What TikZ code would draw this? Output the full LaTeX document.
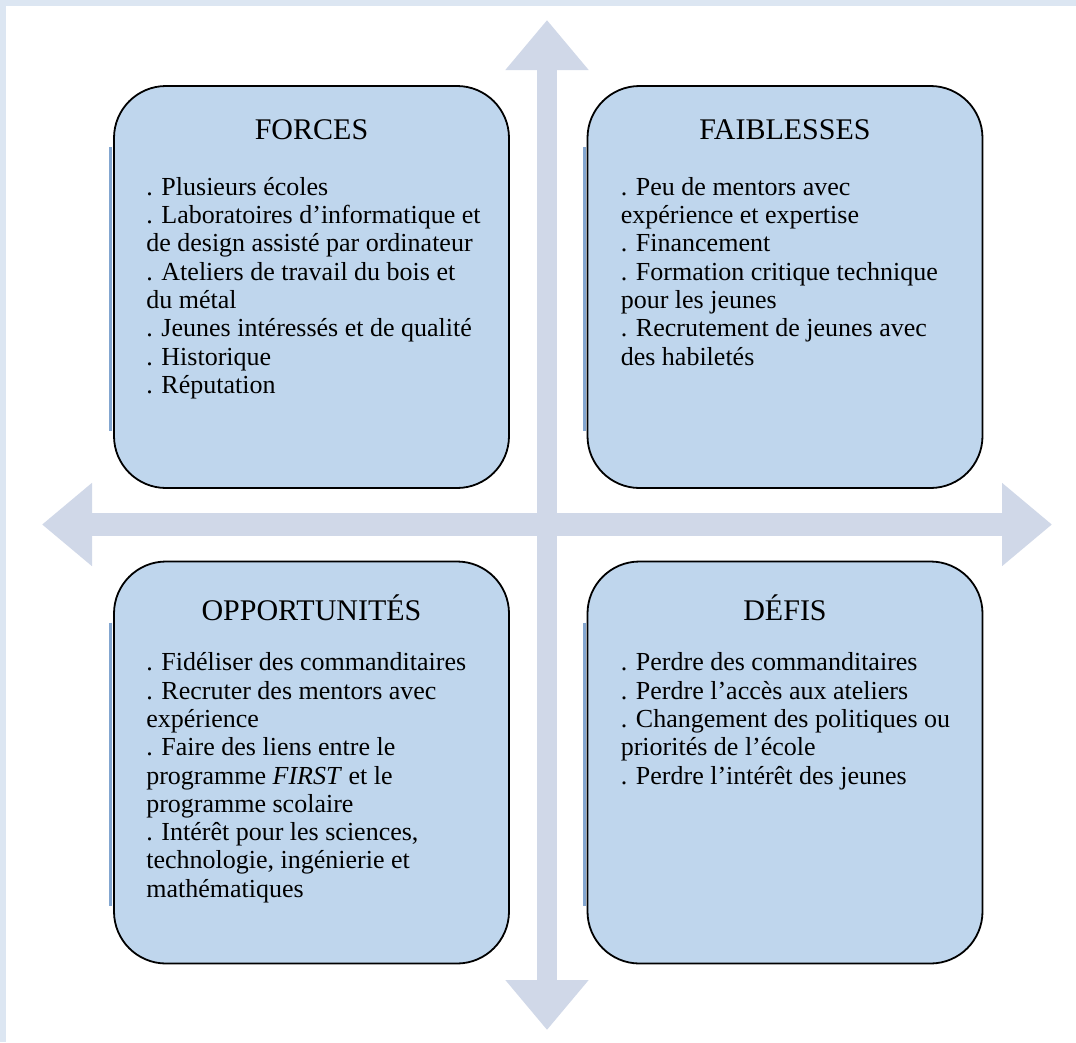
\documentclass[tikz,border=0pt]{standalone}
\usepackage{fontspec}
\setmainfont{Liberation Serif}
\usetikzlibrary{arrows.meta,positioning}

\definecolor{boxblue}{RGB}{191,214,237}
\definecolor{axisgray}{RGB}{208,216,232}
\definecolor{framecol}{RGB}{220,230,242}
\definecolor{shadeblue}{RGB}{79,129,189}

\tikzset{
  quad/.style={draw, line width=1.8pt, fill=boxblue, rounded corners=52pt,
    minimum width=395pt, minimum height=402pt, inner sep=0pt},
  quadtitle/.style={inner sep=0pt, font=\fontsize{30}{36}\selectfont},
  quadtext/.style={anchor=north west, align=left, inner sep=0pt,
    font=\fontsize{26}{28.3}\selectfont},
  crossarrow/.style={axisgray,
    {Triangle[length=50pt,width=80pt]}-{Triangle[length=50pt,width=80pt]}},
  boxshade/.style={shadeblue, line width=3pt, opacity=0.7}
}

\begin{document}
\begin{tikzpicture}[x=1pt,y=-1pt]
    % page frame
    \fill[framecol] (0,0) rectangle (1076,1042);
    \fill[white] (6,6) rectangle (1076,1042);
    \useasboundingbox (0,0) rectangle (1076,1042);

    % the cross
    \coordinate (up) at (547,20);
    \coordinate (down) at (547,1030);
    \coordinate (west) at (42,524.5);
    \coordinate (east) at (1052,524.5);
    \draw[crossarrow, line width=23pt] (west) -- (east);
    \draw[crossarrow, line width=20pt] (up) -- (down);

    % the four boxes
    \node[quad] (forces) at (311.5,287) {};
    \node[quad] (faiblesses) at (785,287) {};
    \node[quad] (opportunites) at (311.5,762.5) {};
    \node[quad] (defis) at (785,762.5) {};

    \foreach \b in {forces,faiblesses,opportunites,defis}
      \draw[boxshade] ([xshift=-2.5pt,yshift=-62pt]\b.north west) -- ([xshift=-2.5pt,yshift=58pt]\b.south west);

    % titres
    \node[quadtitle] (forcestitle) at ([yshift=-45pt]forces.north) {FORCES};
    \node[quadtitle] (faiblessestitle) at ([yshift=-45pt]faiblesses.north) {FAIBLESSES};
    \node[quadtitle] (opportunitestitle) at ([yshift=-47pt]opportunites.north) {OPPORTUNITÉS};
    \node[quadtitle] (defistitle) at ([yshift=-47pt]defis.north) {DÉFIS};

    % listes
    \node[quadtext] (forceslist) at ([xshift=33pt,yshift=-92pt]forces.north west)
      {. Plusieurs écoles\\
       . Laboratoires d’informatique et\\
       de design assisté par ordinateur\\
       . Ateliers de travail du bois et\\
       du métal\\
       . Jeunes intéressés et de qualité\\
       . Historique\\
       . Réputation};
    \node[quadtext] (faiblesseslist) at ([xshift=34pt,yshift=-92pt]faiblesses.north west)
      {. Peu de mentors avec\\
       expérience et expertise\\
       . Financement\\
       . Formation critique technique\\
       pour les jeunes\\
       . Recrutement de jeunes avec\\
       des habiletés};
    \node[quadtext] (opportuniteslist) at ([xshift=33pt,yshift=-92pt]opportunites.north west)
      {. Fidéliser des commanditaires\\
       . Recruter des mentors avec\\
       expérience\\
       . Faire des liens entre le\\
       programme \textit{FIRST} et le\\
       programme scolaire\\
       . Intérêt pour les sciences,\\
       technologie, ingénierie et\\
       mathématiques};
    \node[quadtext] (defislist) at ([xshift=34pt,yshift=-92pt]defis.north west)
      {. Perdre des commanditaires\\
       . Perdre l’accès aux ateliers\\
       . Changement des politiques ou\\
       priorités de l’école\\
       . Perdre l’intérêt des jeunes};
\end{tikzpicture}
\end{document}
